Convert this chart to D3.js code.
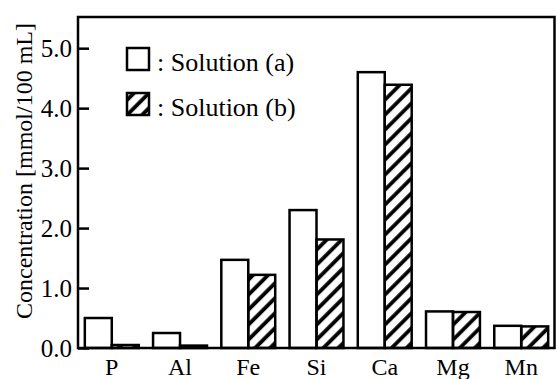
<!DOCTYPE html>
<html>
<head>
<meta charset="utf-8">
<script src="https://cdn.jsdelivr.net/npm/d3@7"></script>
<style>
  body { margin: 0; background: #fff; }
  svg { display: block; font-family: "Liberation Serif", "Times New Roman", serif; }
</style>
</head>
<body>
<svg id="chart" width="557" height="379"></svg>
<script>
const elements = ['P', 'Al', 'Fe', 'Si', 'Ca', 'Mg', 'Mn']
const solutionA = [0.50, 0.25, 1.47, 2.30, 4.60, 0.61, 0.37]
const solutionB = [0.05, 0.04, 1.22, 1.81, 4.39, 0.60, 0.36]
const yTicks = [0, 1, 2, 3, 4, 5]
const seriesNames = [': Solution (a)', ': Solution (b)']

const svg = d3.select('#chart')
const margin = { left: 78, right: 2, top: 17, bottom: 31 }
const W = 557, H = 379

const x = d3.scaleBand()
  .domain(elements)
  .range([margin.left, W - margin.right])
  .paddingInner(0.21)
  .paddingOuter(0.1)
const sub = d3.scaleBand().domain(['a', 'b']).range([0, x.bandwidth()])
const y = d3.scaleLinear().domain([0, 5.52]).range([H - margin.bottom, margin.top])

// hatch for solution (b)
svg.append('defs').append('pattern')
  .attr('id', 'hatch')
  .attr('patternUnits', 'userSpaceOnUse')
  .attr('width', 10.6).attr('height', 10.6)
  .attr('patternTransform', 'rotate(45)')
  .append('line')
  .attr('x1', 5).attr('y1', 0).attr('x2', 5).attr('y2', 10.6)
  .attr('stroke', '#000').attr('stroke-width', 3.8)

const rows = elements.map((e, i) => ({ e, a: solutionA[i], b: solutionB[i] }))

const groups = svg.append('g').selectAll('g').data(rows).enter()
  .append('g').attr('transform', d => `translate(${x(d.e)},0)`)

groups.append('rect')
  .attr('x', sub('a')).attr('width', sub.bandwidth())
  .attr('y', d => y(d.a)).attr('height', d => y(0) - y(d.a))
  .attr('fill', '#fff').attr('stroke', '#000').attr('stroke-width', 2.5)

groups.append('rect')
  .attr('x', sub('b')).attr('width', sub.bandwidth())
  .attr('y', d => y(d.b)).attr('height', d => y(0) - y(d.b))
  .attr('fill', 'url(#hatch)').attr('stroke', '#000').attr('stroke-width', 2.5)

// frame
svg.append('rect')
  .attr('x', margin.left).attr('y', margin.top)
  .attr('width', W - margin.right - margin.left - 0.5)
  .attr('height', y(0) - margin.top)
  .attr('fill', 'none').attr('stroke', '#000').attr('stroke-width', 2.5)

// y axis, ticks inward
const yAxis = svg.append('g')
  .attr('transform', `translate(${margin.left},0)`)
  .call(d3.axisLeft(y).tickValues(yTicks).tickFormat(d3.format('.1f')).tickSizeInner(-11).tickSizeOuter(0).tickPadding(6))
yAxis.select('.domain').remove()
yAxis.selectAll('line').attr('stroke-width', 2.5)
yAxis.selectAll('text')
  .attr('font-size', 25).attr('fill', '#000')
  .attr('x', -6).attr('dy', '0.35em')
  .attr('font-family', '"Liberation Serif", serif')

// x labels
svg.append('g').selectAll('text').data(elements).enter()
  .append('text')
  .attr('x', d => x(d) + x.bandwidth() / 2)
  .attr('y', 375)
  .attr('text-anchor', 'middle')
  .attr('font-size', 24)
  .text(d => d)

// y label
svg.append('text')
  .attr('transform', 'translate(32,171) rotate(-90)')
  .attr('text-anchor', 'middle')
  .attr('font-size', 24)
  .text('Concentration [mmol/100 mL]')

// legend
const legend = svg.append('g').selectAll('g').data(seriesNames).enter()
  .append('g').attr('transform', (d, i) => `translate(127,${48 + i * 45})`)
legend.append('rect')
  .attr('width', 22).attr('height', 22)
  .attr('fill', (d, i) => i ? 'url(#hatch)' : '#fff')
  .attr('stroke', '#000').attr('stroke-width', 2.5)
legend.append('text')
  .attr('x', 30).attr('y', 23)
  .attr('font-size', 26)
  .text(d => d)
</script>
</body>
</html>
